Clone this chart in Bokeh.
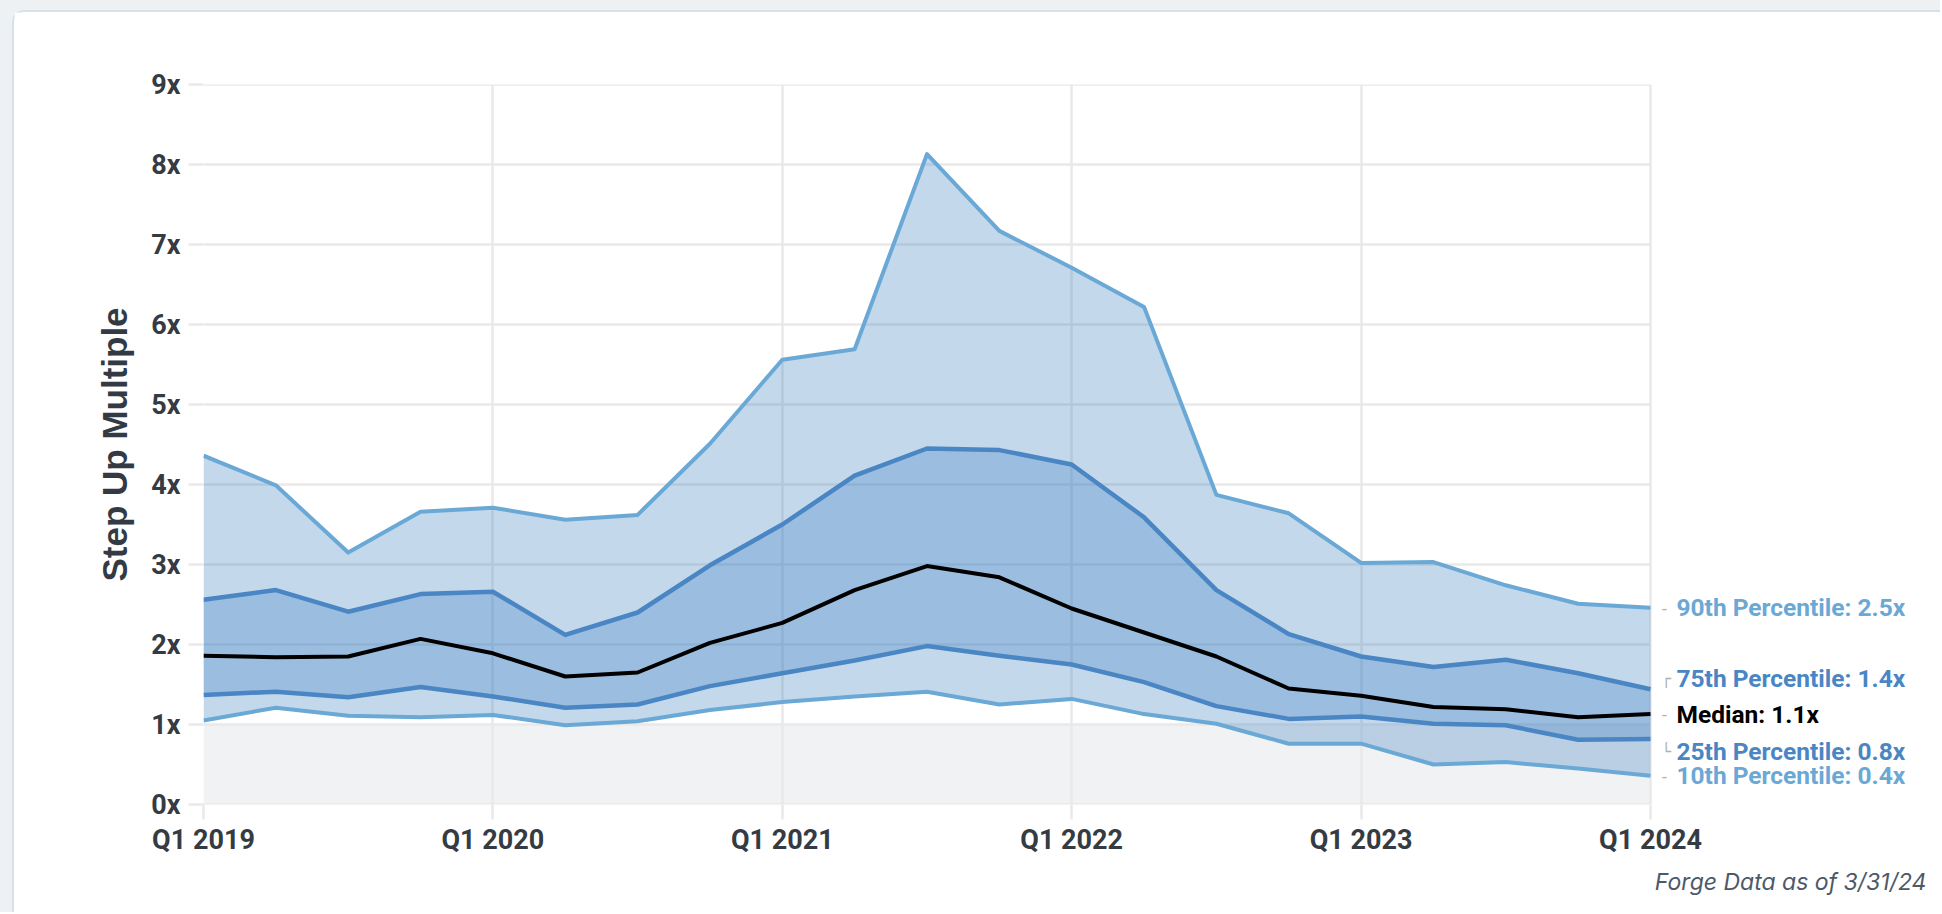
from bokeh.plotting import figure
from bokeh.models import Range1d, FixedTicker, BoxAnnotation, Label, Title
from bokeh.embed import file_html
from bokeh.resources import INLINE

quarters = ["Q1 2019", "Q2 2019", "Q3 2019", "Q4 2019",
            "Q1 2020", "Q2 2020", "Q3 2020", "Q4 2020",
            "Q1 2021", "Q2 2021", "Q3 2021", "Q4 2021",
            "Q1 2022", "Q2 2022", "Q3 2022", "Q4 2022",
            "Q1 2023", "Q2 2023", "Q3 2023", "Q4 2023",
            "Q1 2024"]

p90 = [4.36, 3.99, 3.15, 3.66, 3.71, 3.56, 3.62, 4.51, 5.56, 5.69, 8.13,
       7.17, 6.71, 6.22, 3.87, 3.64, 3.02, 3.03, 2.74, 2.51, 2.46]
p75 = [2.56, 2.68, 2.41, 2.63, 2.66, 2.12, 2.40, 2.99, 3.50, 4.11, 4.45,
       4.43, 4.25, 3.59, 2.68, 2.13, 1.85, 1.72, 1.81, 1.64, 1.44]
med = [1.86, 1.84, 1.85, 2.07, 1.89, 1.60, 1.65, 2.02, 2.27, 2.68, 2.98,
       2.84, 2.45, 2.15, 1.85, 1.45, 1.36, 1.22, 1.19, 1.09, 1.13]
p25 = [1.37, 1.41, 1.34, 1.47, 1.35, 1.21, 1.25, 1.48, 1.64, 1.80, 1.98,
       1.86, 1.75, 1.53, 1.23, 1.07, 1.10, 1.01, 0.99, 0.81, 0.82]
p10 = [1.05, 1.21, 1.11, 1.09, 1.12, 0.99, 1.04, 1.18, 1.28, 1.35, 1.41,
       1.25, 1.32, 1.13, 1.01, 0.76, 0.76, 0.50, 0.53, 0.45, 0.36]

series_names = ["90th Percentile", "75th Percentile", "Median",
                "25th Percentile", "10th Percentile"]
y_ticks = list(range(10))
x_tick_idx = [0, 4, 8, 12, 16, 20]

x = list(range(len(quarters)))
last = len(quarters) - 1

LIGHT = "#6aa8d5"
DARK = "#4a86c4"
FILL = "#3a7fc1"
GRID = "#e9e9e9"
TXT = "#353b43"

# frame spans the plot plus the label area on the right
p = figure(width=1928, height=902, x_range=Range1d(0, last + 3.815),
           y_range=Range1d(0, 9), output_backend="svg", toolbar_location=None,
           min_border_left=189, min_border_right=16, min_border_top=72,
           min_border_bottom=110)
p.outline_line_color = None
p.background_fill_color = "white"
p.border_fill_color = "white"
p.styles = {"margin-left": "12px", "margin-top": "10px",
            "border-top": "2px solid #d8e1ea", "border-left": "2px solid #d8e1ea",
            "border-top-left-radius": "12px",
            "box-shadow": "0 -40px 0 0 #eef1f4, -40px 0 0 0 #eef1f4, "
                          "-40px -40px 0 0 #eef1f4"}

# gray band below 1x
p.add_layout(BoxAnnotation(bottom=0, top=1, left=0, right=last,
                           fill_color="#f1f2f4", fill_alpha=1,
                           line_color=None, level="image"))

# grids
p.xgrid.ticker = FixedTicker(ticks=x_tick_idx)
p.xgrid.grid_line_color = GRID
p.xgrid.grid_line_width = 2.5
p.ygrid.grid_line_color = None
p.segment(x0=[0] * len(y_ticks), x1=[last] * len(y_ticks), y0=y_ticks,
          y1=y_ticks, line_color=GRID, line_width=2.5)

# axes
xa = p.xaxis[0]
xa.ticker = FixedTicker(ticks=x_tick_idx)
xa.major_label_overrides = {i: quarters[i] for i in x_tick_idx}
ya = p.yaxis[0]
ya.ticker = FixedTicker(ticks=y_ticks)
ya.major_label_overrides = {v: f"{v}x" for v in y_ticks}
for a in (xa, ya):
    a.axis_line_color = None
    a.major_tick_line_color = GRID
    a.major_tick_line_width = 2.5
    a.major_tick_in = 0
    a.minor_tick_line_color = None
    a.major_label_text_font = "Roboto"
    a.major_label_text_font_size = "27px"
    a.major_label_text_font_style = "bold"
    a.major_label_text_color = TXT
xa.major_tick_out = 15
xa.major_label_standoff = 4
ya.major_tick_out = 15
ya.major_label_standoff = 8
ya.axis_label = "Step Up Multiple"
ya.axis_label_text_font = "Liberation Sans"
ya.axis_label_text_font_size = "35px"
ya.axis_label_text_font_style = "bold"
ya.axis_label_text_color = "#333a44"
ya.axis_label_standoff = 14

# bands
p.varea(x=x, y1=p10, y2=p90, fill_color=FILL, fill_alpha=0.3)
p.varea(x=x, y1=p25, y2=p75, fill_color=FILL, fill_alpha=0.3)

# lines
p.line(x, p90, line_color=LIGHT, line_width=4, line_join="round")
p.line(x, p10, line_color=LIGHT, line_width=4, line_join="round")
p.line(x, p75, line_color=DARK, line_width=4.5, line_join="round")
p.line(x, p25, line_color=DARK, line_width=4.5, line_join="round")
p.line(x, med, line_color="black", line_width=4, line_join="round")

# end labels
label_specs = [
    (series_names[0], p90[-1], LIGHT, 0, "-"),
    (series_names[1], p75[-1], DARK, 11, "\u250c"),
    (series_names[2], med[-1], "black", 0, "-"),
    (series_names[3], p25[-1], DARK, -13, "\u2514"),
    (series_names[4], p10[-1], LIGHT, 0, "-"),
]
for name, val, col, dy, mark in label_specs:
    p.add_layout(Label(x=last, y=val, x_offset=26, y_offset=dy,
                       text=f"{name}: {val:.1f}x", text_color=col,
                       text_font="Roboto", text_font_size="24.5px",
                       text_font_style="bold", text_baseline="middle",
                       text_align="left"))
    p.add_layout(Label(x=last, y=val, x_offset=11, y_offset=dy,
                       text=mark, text_color="#b0b0b0",
                       text_font="DejaVu Sans", text_font_size="16px",
                       text_baseline="middle", text_align="left"))

# footer
p.add_layout(Title(text="Forge Data as of 3/31/24", align="right",
                   text_color="#4d5968", text_font="Inter",
                   text_font_size="23px", text_font_style="italic",
                   standoff=14), "below")

open("out.html", "w").write(file_html(p, INLINE))
